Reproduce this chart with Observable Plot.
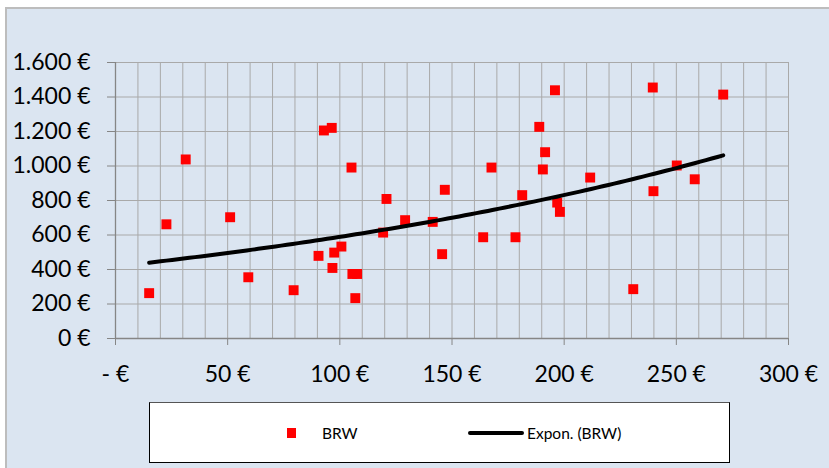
<!DOCTYPE html>
<html>
<head>
<meta charset="utf-8">
<script src="https://cdn.jsdelivr.net/npm/d3@7"></script>
<script src="https://cdn.jsdelivr.net/npm/@observablehq/plot@0.6"></script>
<style>
  html, body { margin: 0; padding: 0; background: #ffffff; }
  #frame { position: absolute; left: 5px; top: 7px; width: 824px; height: 461px; box-sizing: border-box;
           background: #dbe5f1; border-left: 2px solid #bdbdbd; border-top: 2px solid #bdbdbd; }
  #chart { position: absolute; left: 0; top: 0; }
  #legend { position: absolute; left: 149px; top: 402px; width: 581px; height: 61px; box-sizing: border-box;
            background: #ffffff; border: 1px solid #000000; border-top-color: #555; }
  .lg { position: absolute; font-family: Lato, sans-serif; font-size: 15.5px; color: #000; line-height: 16px; }
</style>
</head>
<body>
<div id="frame"></div>
<div id="chart"></div>
<div id="legend"></div>
<script>
// Series "BRW": x values (€) and y values (€)
const brwX = [15.0, 22.7, 31.3, 51.1, 59.2, 79.4, 90.5, 92.9, 96.4, 96.7, 97.5, 100.7, 105.2, 105.6, 107.7, 106.9,
              120.8, 119.3, 129.1, 141.4, 146.8, 145.6, 163.9, 167.6, 178.3, 181.3, 188.9, 190.5, 191.5, 195.9,
              196.9, 198.1, 211.6, 230.8, 239.5, 239.8, 250.2, 258.2, 270.9];
const brwY = [263, 662, 1038, 703, 355, 280, 479, 1206, 1221, 409, 498, 533, 991, 374, 374, 234,
              809, 614, 686, 676, 862, 489, 587, 991, 587, 831, 1227, 980, 1080, 1439,
              788, 734, 933, 286, 1455, 854, 1003, 923, 1414];

const seriesName = "BRW";
const trendName = "Expon. (BRW)";

const xTicks = [0, 50, 100, 150, 200, 250, 300];
const xTickLabels = ["- €", "50 €", "100 €", "150 €", "200 €", "250 €", "300 €"];
const xGridStep = 10;
const yTicks = [0, 200, 400, 600, 800, 1000, 1200, 1400, 1600];
const yTickLabels = ["0 €", "200 €", "400 €", "600 €", "800 €", "1.000 €", "1.200 €", "1.400 €", "1.600 €"];

const points = brwX.map((x, i) => ({x, y: brwY[i]}));

// Exponential trendline fitted (least squares on ln y), as a spreadsheet does
const mx = d3.mean(points, d => d.x);
const ml = d3.mean(points, d => Math.log(d.y));
const b = d3.sum(points, d => (d.x - mx) * (Math.log(d.y) - ml)) / d3.sum(points, d => (d.x - mx) ** 2);
const a = Math.exp(ml - b * mx);
const [x0, x1] = d3.extent(brwX);
const trend = d3.range(0, 101).map(k => { const x = x0 + (x1 - x0) * k / 100; return {x, y: a * Math.exp(b * x)}; });

const xGrid = d3.range(xTicks[0], xTicks[xTicks.length - 1] + 1, xGridStep);
const gridColor = "#a9a9a9";
const axisColor = "#868686";

const chart = Plot.plot({
  width: 829,
  height: 468,
  marginLeft: 115,
  marginRight: 41,
  marginTop: 62,
  marginBottom: 130,
  style: {background: "transparent", fontFamily: "Lato, sans-serif", fontSize: "23px", color: "#000"},
  x: {domain: [0, 300]},
  y: {domain: [0, 1600]},
  marks: [
    Plot.gridX(xGrid, {stroke: gridColor, strokeOpacity: 1, strokeWidth: 1}),
    Plot.gridY(yTicks, {stroke: gridColor, strokeOpacity: 1, strokeWidth: 1}),
    Plot.ruleY([0], {stroke: axisColor, strokeWidth: 1.3}),
    Plot.ruleX([0], {stroke: axisColor, strokeWidth: 1.3}),
    Plot.axisX(xTicks, {tickFormat: d => xTickLabels[xTicks.indexOf(d)], tickSize: 7, tickPadding: 20,
                        stroke: axisColor, label: null, fontSize: 23, fill: "#000"}),
    Plot.axisY(yTicks, {tickFormat: d => yTickLabels[yTicks.indexOf(d)], tickSize: 8, tickPadding: 17,
                        stroke: axisColor, label: null, fontSize: 23, fill: "#000"}),
    Plot.dot(points, {x: "x", y: "y", symbol: "square", r: 5.6, fill: "#ff0000", stroke: null}),
    Plot.line(trend, {x: "x", y: "y", stroke: "#000", strokeWidth: 4, strokeLinecap: "round"})
  ]
});
document.getElementById("chart").appendChild(chart);

// Legend
const legend = document.getElementById("legend");
legend.innerHTML = `
  <div style="position:absolute;left:137px;top:25px;width:9px;height:10px;background:#ff0000"></div>
  <div class="lg" style="left:172px;top:22px">${seriesName}</div>
  <div style="position:absolute;left:318px;top:27.5px;width:56px;height:4px;border-radius:2px;background:#000"></div>
  <div class="lg" style="left:377px;top:22px">${trendName}</div>
`;
</script>
</body>
</html>
